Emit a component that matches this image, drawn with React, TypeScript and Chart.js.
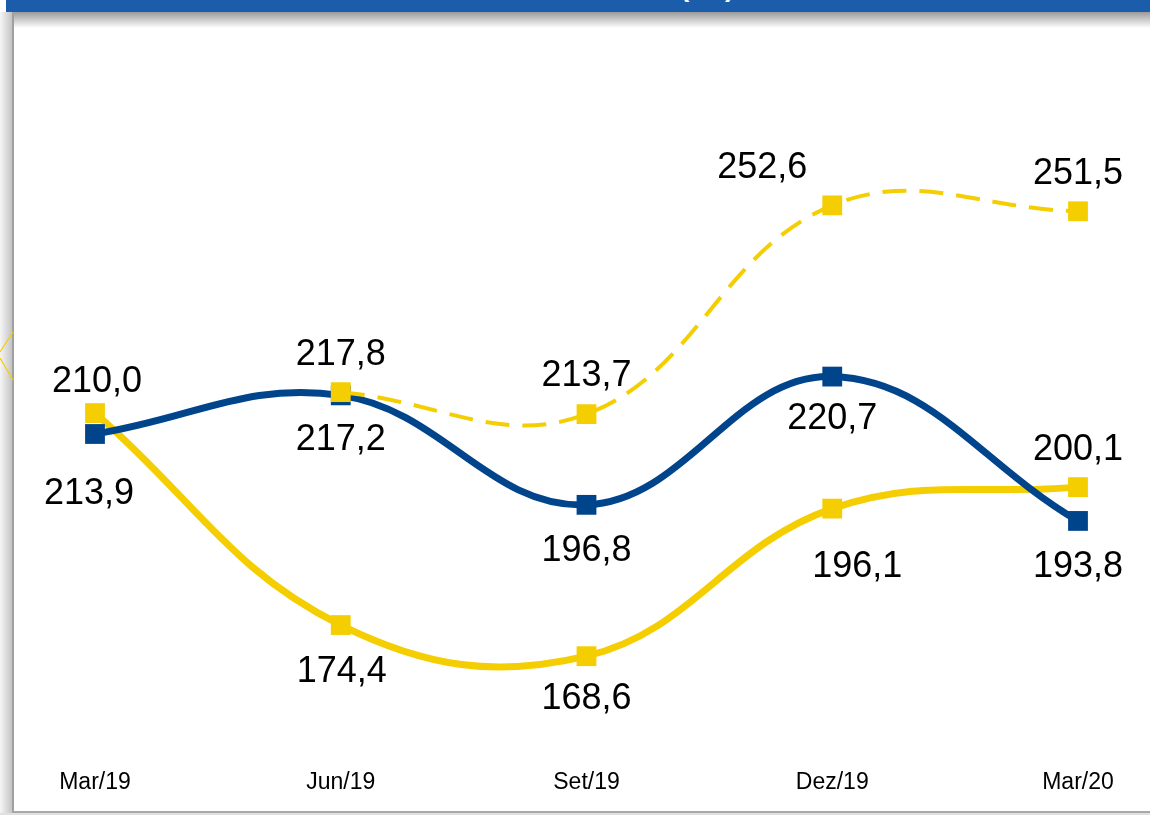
import React, { useEffect, useRef } from 'react';
import { Chart, registerables } from 'chart.js';

Chart.register(...registerables);

const categories = ['Mar/19', 'Jun/19', 'Set/19', 'Dez/19', 'Mar/20'];
const blueSeries = [210.0, 217.2, 196.8, 220.7, 193.8];
const yellowSeries = [213.9, 174.4, 168.6, 196.1, 200.1];
const yellowDashedSeries = [null, 217.8, 213.7, 252.6, 251.5];

// label offsets in px (dx, dy of the text's visual centre) relative to each point – styling only
const blueLabelOffsets = [[2, -55], [0, 41.5], [0, 43.5], [0, 40], [0, 43]];
const yellowLabelOffsets = [[-6, 78], [1, 44], [0, 40], [25, 56], [0, -40]];
const dashedLabelOffsets = [[0, 0], [0, -40], [0, -41], [-70, -40.5], [0, -40]];

const BLUE = '#00458C';
const YELLOW = '#F4CE00';
const FONT = '"Liberation Sans", Arial, Helvetica, sans-serif';
const LABEL_SIZE = 36;

const fmt = (v: number) => v.toFixed(1).replace('.', ',');

const labelPlugin = {
  id: 'valueLabels',
  afterDatasetsDraw(chart: any) {
    const ctx = chart.ctx;
    const offsets = [blueLabelOffsets, yellowLabelOffsets, dashedLabelOffsets];
    ctx.save();
    ctx.font = `${LABEL_SIZE}px ${FONT}`;
    ctx.fillStyle = '#000';
    ctx.textAlign = 'center';
    ctx.textBaseline = 'alphabetic';
    const half = LABEL_SIZE * 0.716 / 2;
    chart.data.datasets.forEach((ds: any, i: number) => {
      const meta = chart.getDatasetMeta(i);
      meta.data.forEach((el: any, j: number) => {
        const v = ds.data[j];
        if (v === null || v === undefined) return;
        const [dx, dy] = offsets[i][j];
        ctx.fillText(fmt(v), el.x + dx, el.y + dy + half);
      });
    });
    ctx.restore();
  },
};

function LineChart() {
  const ref = useRef<HTMLCanvasElement>(null);
  useEffect(() => {
    if (!ref.current) return;
    const common = {
      pointStyle: 'rect',
      pointRadius: 14,
      pointBorderWidth: 0,
      tension: 0.4,
      fill: false,
      clip: false,
    };
    const chart = new Chart(ref.current, {
      type: 'line',
      data: {
        labels: categories,
        datasets: [
          {
            ...common,
            data: blueSeries,
            borderColor: BLUE,
            backgroundColor: BLUE,
            pointBackgroundColor: BLUE,
            borderWidth: 7,
            order: 1,
          },
          {
            ...common,
            data: yellowSeries,
            borderColor: YELLOW,
            backgroundColor: YELLOW,
            pointBackgroundColor: YELLOW,
            borderWidth: 7,
            order: 2,
          },
          {
            ...common,
            data: yellowDashedSeries,
            borderColor: YELLOW,
            backgroundColor: YELLOW,
            pointBackgroundColor: YELLOW,
            borderWidth: 4,
            borderDash: [24, 13],
            order: 0,
          },
        ] as any,
      },
      options: {
        animation: false,
        responsive: false,
        maintainAspectRatio: false,
        layout: { padding: { left: 95, right: 72, top: 112, bottom: 5.4 } },
        plugins: { legend: { display: false }, tooltip: { enabled: false }, title: { display: false } },
        scales: {
          x: {
            grid: { display: false, drawTicks: false },
            border: { display: false },
            ticks: { color: '#000', font: { family: FONT, size: 23 }, padding: 13 },
          },
          y: { display: false, min: 150, max: 270 },
        },
      },
      plugins: [labelPlugin],
    });
    return () => chart.destroy();
  }, []);
  return <canvas ref={ref} width={1150} height={815} style={{ position: 'absolute', left: 0, top: 0 }} />;
}

export default function App() {
  return (
    <div style={{ position: 'absolute', left: 0, top: 0, width: 1150, height: 815, background: '#fff', overflow: 'hidden' }}>
      {/* header bar */}
      <div style={{ position: 'absolute', left: 6, top: 0, width: 1144, height: 12, background: '#1B5DAB', overflow: 'hidden' }}>
        <svg width={1144} height={12} style={{ position: 'absolute', left: 0, top: 0 }}>
          <text x={674} y={-4} fill="#fff" fontWeight="bold" fontSize={28} fontFamily={FONT}>(R$)</text>
        </svg>
      </div>
      <div style={{ position: 'absolute', left: 6, top: 12, width: 1144, height: 16, background: 'linear-gradient(to bottom, #9a9a9a, #ffffff)' }} />
      {/* left border */}
      <div style={{ position: 'absolute', left: 0, top: 12, width: 12, height: 803, background: 'linear-gradient(to right, #f6f6f6, #c4c4c4)' }} />
      <div style={{ position: 'absolute', left: 12, top: 12, width: 2, height: 801, background: '#a0a0a0' }} />
      {/* bottom border */}
      <div style={{ position: 'absolute', left: 12, top: 811, width: 1138, height: 2, background: '#a8a8a8' }} />
      <div style={{ position: 'absolute', left: 0, top: 813, width: 1150, height: 2, background: '#e0e0e0' }} />
      <svg width={14} height={815} style={{ position: 'absolute', left: 0, top: 0 }}>
        <line x1={13} y1={332} x2={0} y2={352} stroke={YELLOW} strokeWidth={1.2} />
        <line x1={0} y1={358} x2={13} y2={380} stroke={YELLOW} strokeWidth={1.2} />
      </svg>
      <LineChart />
    </div>
  );
}
